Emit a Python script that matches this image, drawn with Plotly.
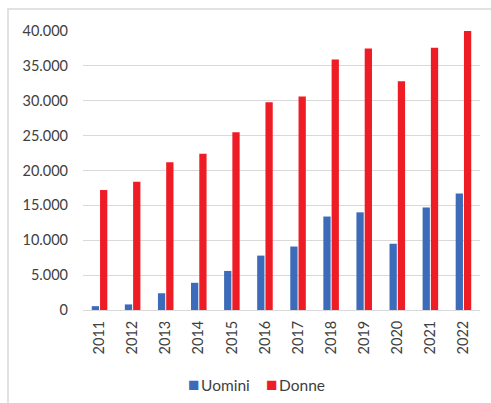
import plotly.graph_objects as go

anni = ["2011", "2012", "2013", "2014", "2015", "2016", "2017", "2018", "2019", "2020", "2021", "2022"]
uomini = [550, 800, 2400, 3900, 5600, 7800, 9100, 13400, 14000, 9500, 14700, 16700]
donne = [17200, 18400, 21200, 22400, 25500, 29800, 30600, 35900, 37500, 32800, 37600, 40000]

colore_uomini = "#3c6bb9"
colore_donne = "#ee1c25"

W, H = 491, 403
L, R, T, B = 83, 11, 31, 93
plot_w = W - L - R
plot_h = H - T - B

def px_x(px):
    return (px - L) / plot_w

def px_y(py):
    return (H - B - py) / plot_h

fig = go.Figure()
fig.add_trace(go.Bar(x=anni, y=uomini, name="Uomini", marker=dict(color=colore_uomini, line=dict(width=0))))
fig.add_trace(go.Bar(x=anni, y=donne, name="Donne", marker=dict(color=colore_donne, line=dict(width=0))))

# legend drawn as a compact row of coloured squares + labels
legenda = [("Uomini", colore_uomini, 186), ("Donne", colore_donne, 264)]
annotations = []
for nome, colore, x0 in legenda:
    annotations.append(dict(
        xref="paper", yref="paper", x=px_x(x0), y=px_y(383), xanchor="left", yanchor="middle",
        text=f"<span style='color:{colore};font-size:19px'>■</span><span style='font-size:6px'> </span>{nome}",
        showarrow=False,
        font=dict(size=15.5, color="#404040", family="Lato, Liberation Sans, sans-serif"),
    ))

fig.update_layout(
    width=W, height=H,
    margin=dict(l=L, r=R, t=T, b=B, autoexpand=False),
    paper_bgcolor="white", plot_bgcolor="white",
    barmode="group", bargap=0.5, bargroupgap=0.12,
    separators=",.",
    font=dict(family="Lato, Liberation Sans, sans-serif", size=14, color="#404040"),
    showlegend=False,
    annotations=annotations,
    xaxis=dict(type="category", tickangle=-90, showgrid=False, showline=True, automargin=False,
               linecolor="#d9d9d9", linewidth=1, ticks="", tickfont=dict(size=14.5),
               ticklabelstandoff=4),
    yaxis=dict(range=[0, 40000], dtick=5000, tickformat=",.0f", showgrid=True, automargin=False,
               gridcolor="#d9d9d9", gridwidth=1, zeroline=False, showline=False,
               ticks="", ticklabelstandoff=14, tickfont=dict(size=14.5)),
    shapes=[dict(type="rect", xref="paper", yref="paper",
                 x0=px_x(8), x1=px_x(520), y0=px_y(430), y1=px_y(9),
                 line=dict(color="#d9d9d9", width=1.5), fillcolor="rgba(0,0,0,0)", layer="below")],
)

fig.write_html("out.html")
